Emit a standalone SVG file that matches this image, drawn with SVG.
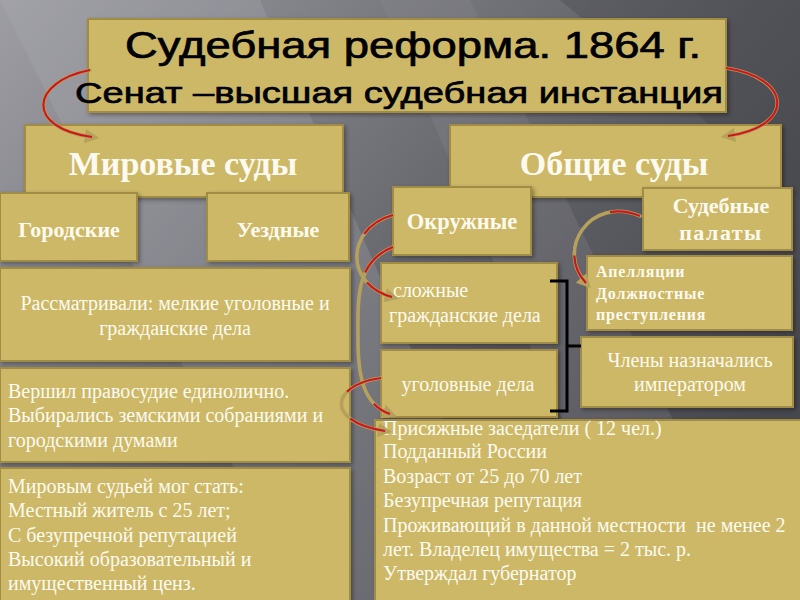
<svg xmlns="http://www.w3.org/2000/svg" width="800" height="600" viewBox="0 0 800 600">
<defs>
<linearGradient id="bg" x1="0" y1="0" x2="1" y2="0.6">
<stop offset="0" stop-color="#9d9da3"/>
<stop offset="0.35" stop-color="#7b7b82"/>
<stop offset="0.7" stop-color="#5a5a61"/>
<stop offset="1" stop-color="#47474e"/>
</linearGradient>
<filter id="sh" x="-5%" y="-5%" width="115%" height="120%">
<feDropShadow dx="2" dy="2" stdDeviation="2" flood-color="#000" flood-opacity="0.35"/>
</filter>
<marker id="tip" viewBox="0 0 10 10" refX="5" refY="5" markerWidth="4" markerHeight="4" orient="auto">
<path d="M0 0 L10 5 L0 10 Z" fill="#b5a15c"/>
</marker>
<style>
.box{fill:#ccb866;stroke:#a08c45;stroke-width:2;filter:url(#sh)}
.w{fill:#fffaf0;font-family:"Liberation Serif","Times New Roman",serif}
.wb{fill:#fffaf0;font-family:"Liberation Serif","Times New Roman",serif;font-weight:bold}
.t{fill:#000;font-family:"Liberation Sans",Arial,sans-serif;stroke:#000;stroke-width:0.7}
.rg{fill:none;stroke:#b5a15c;stroke-width:3.6;stroke-linecap:round}
.rr{fill:none;stroke:#d0141a;stroke-width:2.2}
.br{fill:none;stroke:#000;stroke-width:3}
</style>
</defs>
<rect width="800" height="600" fill="url(#bg)"/>
<polygon points="0,0 260,0 520,600 300,600" fill="#b0b0b6" opacity="0.25"/>
<polygon points="380,0 470,0 760,600 640,600" fill="#8a8a90" opacity="0.25"/>
<polygon points="560,0 800,0 800,200" fill="#3e3e45" opacity="0.3"/>

<g id="title">
<rect class="box" x="88" y="19" width="638" height="93"/>
<text class="t" x="125" y="58" font-size="36" textLength="576" lengthAdjust="spacingAndGlyphs">Судебная реформа. 1864 г.</text>
<text class="t" x="75" y="103" font-size="30" textLength="648" lengthAdjust="spacingAndGlyphs">Сенат –высшая судебная инстанция</text>
</g>

<g id="mirovye">
<rect class="box" x="25" y="125" width="318" height="72"/>
<text class="wb" x="183" y="175" font-size="34" text-anchor="middle">Мировые суды</text>
</g>
<g id="obshchie">
<rect class="box" x="450" y="125" width="331" height="72"/>
<text class="wb" x="614" y="175" font-size="34" text-anchor="middle">Общие суды</text>
</g>

<g id="gorodskie">
<rect class="box" x="0" y="193" width="137" height="68"/>
<text class="wb" x="69" y="237" font-size="22" text-anchor="middle">Городские</text>
</g>
<g id="uezdnye">
<rect class="box" x="207" y="193" width="142" height="68"/>
<text class="wb" x="278" y="237" font-size="22" text-anchor="middle">Уездные</text>
</g>
<g id="okruzhnye">
<rect class="box" x="393" y="187" width="138" height="68"/>
<text class="wb" x="462" y="229" font-size="22.5" text-anchor="middle">Окружные</text>
</g>
<g id="palaty">
<rect class="box" x="643" y="188" width="149" height="62"/>
<text class="wb" x="721" y="213" font-size="22" text-anchor="middle">Судебные</text>
<text class="wb" x="721" y="240" font-size="22" text-anchor="middle" letter-spacing="1.5">палаты</text>
</g>

<g id="rassmatrivali">
<rect class="box" x="0" y="268" width="350" height="93"/>
<text class="w" x="175" y="310" font-size="20" text-anchor="middle">Рассматривали: мелкие уголовные и</text>
<text class="w" x="175" y="335" font-size="20" text-anchor="middle">гражданские дела</text>
</g>
<g id="vershil">
<rect class="box" x="0" y="368" width="350" height="94"/>
<text class="w" x="8" y="398" font-size="20">Вершил правосудие единолично.</text>
<text class="w" x="8" y="422" font-size="20">Выбирались земскими собраниями и</text>
<text class="w" x="8" y="447" font-size="20">городскими думами</text>
</g>
<g id="mirovym">
<rect class="box" x="0" y="468" width="350" height="134"/>
<text class="w" x="8" y="493" font-size="20">Мировым судьей мог стать:</text>
<text class="w" x="8" y="517" font-size="20">Местный житель с 25 лет;</text>
<text class="w" x="8" y="542" font-size="20">С безупречной репутацией</text>
<text class="w" x="8" y="566" font-size="20">Высокий образовательный и</text>
<text class="w" x="8" y="590" font-size="20">имущественный ценз.</text>
</g>

<g id="slozhnye">
<rect class="box" x="381" y="263" width="176" height="80"/>
<text class="w" x="393" y="297" font-size="20">сложные</text>
<text class="w" x="389" y="322" font-size="20">гражданские дела</text>
</g>
<g id="ugolovnye">
<rect class="box" x="381" y="350" width="176" height="67"/>
<text class="w" x="468" y="391" font-size="20" text-anchor="middle">уголовные дела</text>
</g>
<g id="apellyacii">
<rect class="box" x="587" y="256" width="205" height="74"/>
<text class="wb" x="596" y="277" font-size="16" letter-spacing="0.8">Апелляции</text>
<text class="wb" x="596" y="299" font-size="16" letter-spacing="0.8">Должностные</text>
<text class="wb" x="596" y="320" font-size="16" letter-spacing="0.8">преступления</text>
</g>
<g id="chleny">
<rect class="box" x="581" y="337" width="212" height="70"/>
<text class="w" x="690" y="367" font-size="20" text-anchor="middle">Члены назначались</text>
<text class="w" x="690" y="391" font-size="20" text-anchor="middle">императором</text>
</g>
<g id="prisyazhnye">
<rect class="box" x="375" y="420" width="430" height="182"/>
<text class="w" x="383" y="435" font-size="20">Присяжные заседатели ( 12 чел.)</text>
<text class="w" x="383" y="458" font-size="20">Подданный России</text>
<text class="w" x="383" y="483" font-size="20">Возраст от 25 до 70 лет</text>
<text class="w" x="383" y="507" font-size="20">Безупречная репутация</text>
<text class="w" x="383" y="532" font-size="20">Проживающий в данной местности&#160; не менее 2</text>
<text class="w" x="383" y="556" font-size="20">лет. Владелец имущества = 2 тыс. р.</text>
<text class="w" x="383" y="580" font-size="20">Утверждал губернатор</text>
</g>

<g id="connectors">
<path class="br" d="M550 281 H567 V411 H550 M567 346 H581"/>
<path class="rg" d="M90 70 C30 82 25 128 92 137" marker-end="url(#tip)"/>
<path class="rr" d="M90 70 C30 82 25 128 92 137"/>
<path class="rg" d="M726 68 C792 78 796 126 728 136" marker-end="url(#tip)"/>
<path class="rr" d="M726 68 C792 78 796 126 728 136"/>
<path class="rg" d="M393 215 C345 228 345 285 392 297" marker-end="url(#tip)"/>
<path class="rr" pathLength="100" stroke-dasharray="30 45 25" d="M393 215 C345 228 345 285 392 297"/>
<path class="rg" d="M393 247 C355 262 358 300 358 340 C358 380 365 405 390 414" marker-end="url(#tip)"/>
<path class="rr" pathLength="100" stroke-dasharray="20 70 10" d="M393 247 C355 262 358 300 358 340 C358 380 365 405 390 414"/>
<path class="rg" d="M381 378 C330 385 325 422 385 431" marker-end="url(#tip)"/>
<path class="rr" pathLength="100" stroke-dasharray="35 30 35" d="M381 378 C330 385 325 422 385 431"/>
<path class="rg" d="M640 216 C590 195 555 250 586 283" marker-end="url(#tip)"/>
<path class="rr" pathLength="100" stroke-dasharray="25 50 25" d="M640 216 C590 195 555 250 586 283"/>
</g>
</svg>
